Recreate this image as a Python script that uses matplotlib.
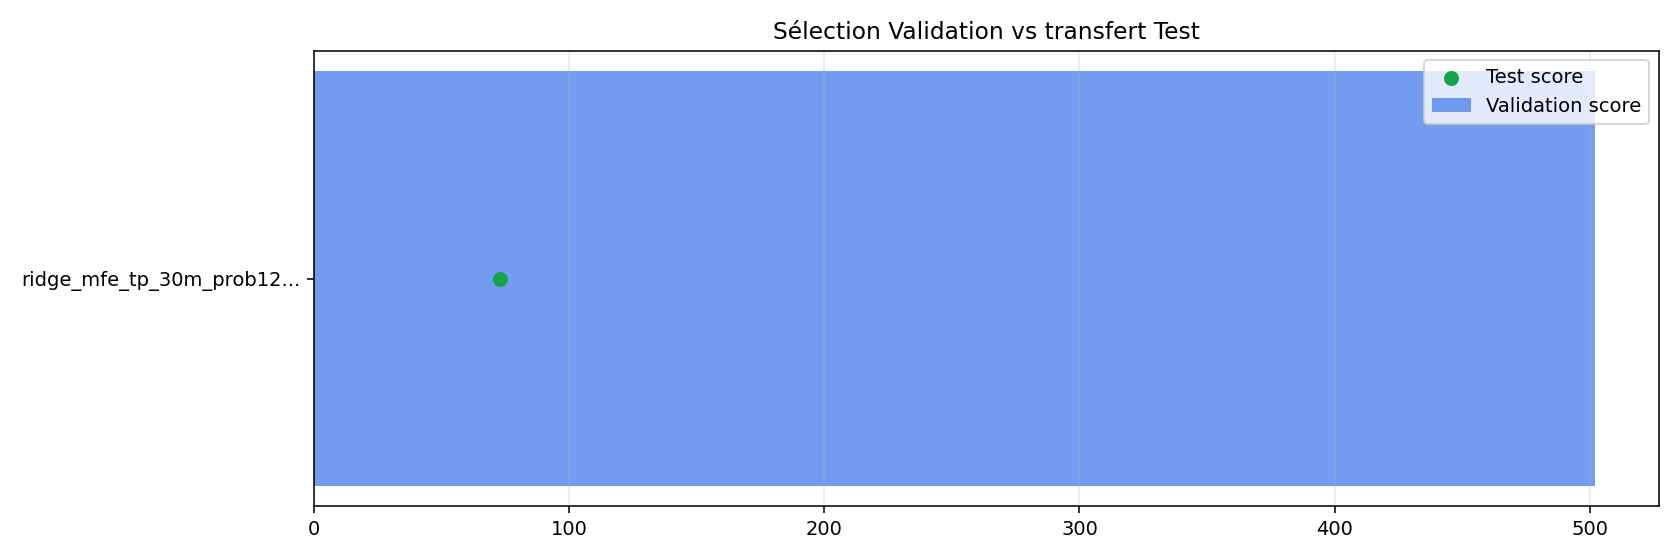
import matplotlib
matplotlib.use("Agg")
import matplotlib.pyplot as plt

models = ["ridge_mfe_tp_30m_prob12..."]
validation_scores = [502.0]
test_scores = [73.0]

fig, ax = plt.subplots(figsize=(12, 4), dpi=140)
ax.barh(models, validation_scores, color="#5b8bee", alpha=0.85, label="Validation score")
ax.scatter(test_scores, models, color="#16a34a", s=45, zorder=3, label="Test score")
ax.set_title("Sélection Validation vs transfert Test")
ax.grid(axis="x", alpha=0.3)
ax.legend(loc="upper right")
fig.tight_layout()
fig.savefig("out.png", dpi=140)
